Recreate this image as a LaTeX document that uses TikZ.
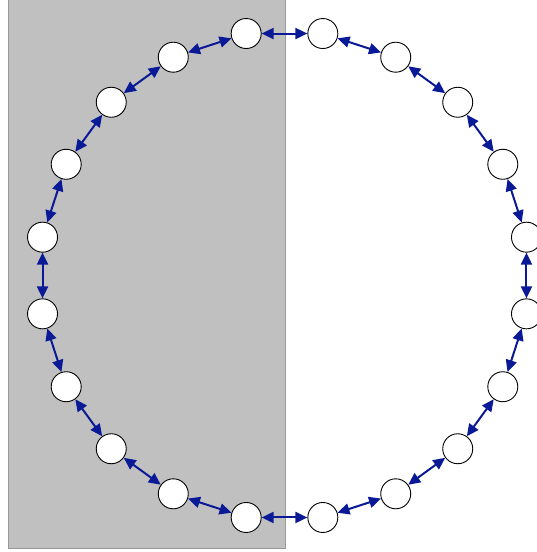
\documentclass[tikz,border=0pt]{standalone}
\usepackage{tikz}
\usetikzlibrary{arrows.meta}
\definecolor{linkblue}{RGB}{10,25,150}
\definecolor{shadegray}{RGB}{192,192,192}

\begin{document}
\begin{tikzpicture}[x=1pt,y=-1pt,
  ring/.style={circle,draw=black,fill=white,line width=0.9pt,minimum size=30pt,inner sep=0pt},
  link/.style={{Triangle[length=12pt,width=11pt]}-{Triangle[length=12pt,width=11pt]},draw=linkblue,line width=2pt}]
\useasboundingbox (0,0) rectangle (537,552);
% shaded left half
\draw[fill=shadegray,draw=gray!80] (8,-1) rectangle (285,548);
% Twenty nodes on a ring, centre (284.5,275.5), radius 245
\foreach \k in {1,...,20}{
\pgfmathsetmacro{\ang}{-81+18*(\k-1)}
\pgfmathsetmacro{\px}{284.5+245*cos(\ang)}
\pgfmathsetmacro{\py}{275.5+245*sin(\ang)}
\node[ring] (n\k) at (\px,\py) {};
}
% each node linked to its neighbour
\foreach \k in {1,...,20}{
\pgfmathtruncatemacro{\nx}{mod(\k,20)+1}
\draw[link] (n\k) -- (n\nx);
}
\end{tikzpicture}
\end{document}
